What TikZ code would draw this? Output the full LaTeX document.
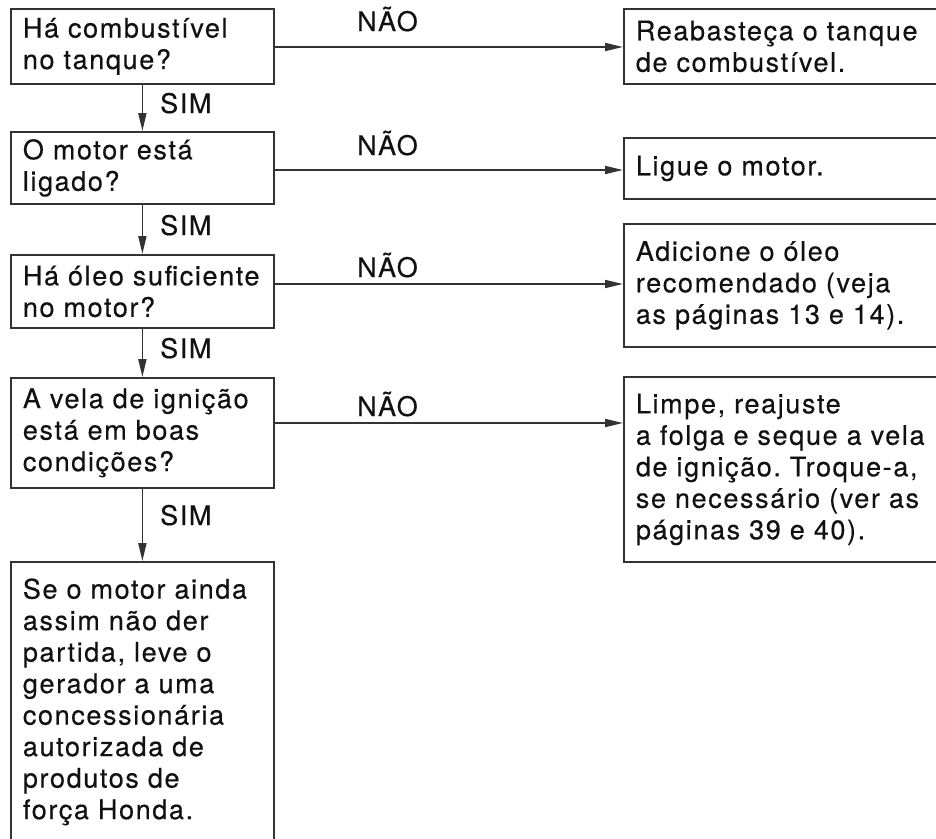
\documentclass[tikz,border=0pt]{standalone}
\usepackage{fontspec}
\setmainfont{TeX Gyre Heros}[LetterSpace=6,FakeBold=0.4]
\usetikzlibrary{arrows.meta}
\definecolor{ln}{HTML}{333333}
\definecolor{tx}{HTML}{111111}
\tikzset{
  box/.style={draw=ln, line width=1.8pt, rectangle, anchor=north west, align=left,
    inner xsep=12pt, inner ysep=0pt, text=tx, font=\fontsize{27}{31.5}\selectfont\frenchspacing},
  lbox/.style={box, text width=239pt, minimum width=263pt},
  rbox/.style={box, text width=300pt, minimum width=322pt},
  arr/.style={draw=ln, line width=1.8pt, -{Triangle[length=18pt,width=8pt]}},
  lab/.style={text=tx, font=\fontsize{27}{30}\selectfont, inner sep=0pt},
}
\begin{document}
\begin{tikzpicture}[x=1pt,y=-1pt]
\useasboundingbox (0,0) rectangle (936,838);
% left column
\node[lbox, minimum height=75pt] (q1) at (10,8) {Há combustível\\no tanque?};
\node[lbox, minimum height=72pt] (q2) at (10,131) {O motor está\\ligado?};
\node[lbox, minimum height=73pt] (q3) at (10,254) {Há óleo suficiente\\no motor?};
\node[lbox, minimum height=110pt] (q4) at (10,377) {A vela de ignição\\está em boas\\condições?};
\node[lbox, minimum height=280pt] (q5) at (10,561) {Se o motor ainda\\assim não der\\partida, leve o\\gerador a uma\\concessionária\\autorizada de\\produtos de\\força Honda.};
% right column
\node[rbox, minimum height=75pt] (r1) at (623,8) {Reabasteça o tanque\\de combustível.};
\node[rbox, minimum height=61pt] (r2) at (623,137) {Ligue o motor.};
\node[rbox, minimum height=123pt] (r3) at (623,223) {Adicione o óleo\\recomendado (veja\\as páginas 13 e 14).};
\node[rbox, minimum height=185pt] (r4) at (623,376) {Limpe, reajuste\\a folga e seque a vela\\de ignição. Troque-a,\\se necessário (ver as\\páginas 39 e 40).};
% SIM arrows
\draw[arr] (q1.south) -- (q2.north);
\draw[arr] (q2.south) -- (q3.north);
\draw[arr] (q3.south) -- (q4.north);
\draw[arr] (q4.south) -- (q5.north);
% NAO arrows
\draw[arr] (q1.east |- 0,47) -- (r1.west |- 0,47);
\draw[arr] (q2.east |- 0,170) -- (r2.west |- 0,170);
\draw[arr] (q3.east |- 0,284) -- (r3.west |- 0,284);
\draw[arr] (q4.east |- 0,423) -- (r4.west |- 0,423);
% labels
\node[lab, anchor=base] (n1) at (387.5,31) {NÃO};
\node[lab, anchor=base] (n2) at (387.5,155) {NÃO};
\node[lab, anchor=base] (n3) at (387.5,277) {NÃO};
\node[lab, anchor=base] (n4) at (387.5,416) {NÃO};
\node[lab, anchor=base west] (s1) at (160,113) {SIM};
\node[lab, anchor=base west] (s2) at (160,235) {SIM};
\node[lab, anchor=base west] (s3) at (160,358) {SIM};
\node[lab, anchor=base west] (s4) at (160,525) {SIM};
\end{tikzpicture}
\end{document}
